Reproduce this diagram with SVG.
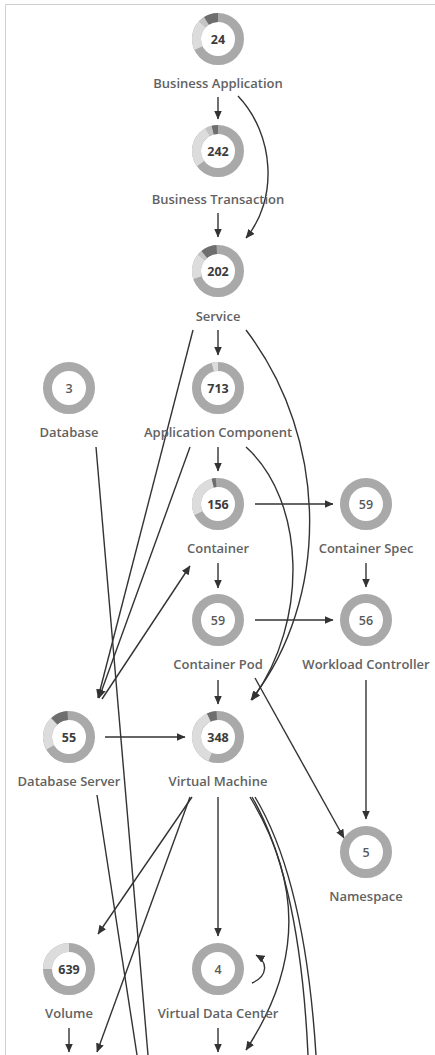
<svg xmlns="http://www.w3.org/2000/svg" width="435" height="1055" viewBox="0 0 435 1055">
<defs>
<marker id="ah" markerWidth="9" markerHeight="8" refX="8.5" refY="4" orient="auto" markerUnits="userSpaceOnUse">
<path d="M0,0 L9,4 L0,8 z" fill="#333"/>
</marker>
</defs>
<style>
.bg{fill:#fff}
.frame{stroke:#cfcfcf;stroke-width:1;fill:none}
.ring{fill:none;stroke:#a9a9a9;stroke-width:9}
.seg{fill:none;stroke-width:9}
.l1{stroke:#dcdcdc}
.l2{stroke:#c4c4c4}
.dk{stroke:#6e6e6e}
.num{font-family:"Open Sans","Liberation Sans",sans-serif;font-size:12.5px;font-weight:700;fill:#3c3c3c;text-anchor:middle}
.num2{font-family:"Open Sans","Liberation Sans",sans-serif;font-size:12.5px;font-weight:600;fill:#5a5a5a;text-anchor:middle}
.lbl{font-family:"Open Sans","Liberation Sans",sans-serif;font-size:13px;font-weight:600;fill:#626262;text-anchor:middle}
.e{fill:none;stroke:#333;stroke-width:1.4}
.ea{fill:none;stroke:#333;stroke-width:1.4;marker-end:url(#ah)}
</style>
<rect class="bg" x="0" y="0" width="435" height="1055"/>
<path class="frame" d="M5.5,1055 V4.5 H435"/>

<g id="connectors">
<path class="ea" d="M218,97 L218,119"/>
<path class="ea" d="M238,96 C275,135 278,200 246,238"/>
<path class="ea" d="M218,213 L218,237"/>
<path class="ea" d="M218,330 L218,355"/>
<path class="ea" d="M193,330 L98,698"/>
<path class="ea" d="M246,330 C330,440 330,600 251,700"/>
<path class="ea" d="M218,447 L218,471"/>
<path class="ea" d="M246,447 C305,500 310,620 252,700"/>
<path class="ea" d="M190,447 L99,698"/>
<path class="ea" d="M102,699 L190,566"/>
<path class="ea" d="M255,504 L333,504"/>
<path class="ea" d="M218,563 L218,588"/>
<path class="ea" d="M366,563 L366,587"/>
<path class="ea" d="M255,620 L333,620"/>
<path class="ea" d="M218,680 L218,704"/>
<path class="ea" d="M255,678 L344,838"/>
<path class="ea" d="M366,680 L366,819"/>
<path class="ea" d="M105,737 L185,737"/>
<path class="e" d="M96,447 L148,1055"/>
<path class="e" d="M97,795 L137,1055"/>
<path class="ea" d="M192,797 L98,934"/>
<path class="ea" d="M190,797 L97,1052"/>
<path class="ea" d="M218,797 L218,936"/>
<path class="e" d="M252,797 Q300,880 308,1055"/>
<path class="e" d="M255,797 Q305,880 316,1055"/>
<path class="ea" d="M250,797 C300,880 305,960 246,1050"/>
<path class="ea" d="M69,1028 L69,1052"/>
<path class="ea" d="M218,1028 L218,1052"/>
<path class="ea" d="M252,983 C268,976 268,962 256,955"/>
</g>

<g id="business-application" transform="translate(218,39)">
<circle class="ring" r="21.5"/>
<g transform="rotate(-90)">
<circle class="seg l1" r="21.5" pathLength="100" stroke-dasharray="19 100" stroke-dashoffset="-68"/>
<circle class="seg l2" r="21.5" pathLength="100" stroke-dasharray="4 100" stroke-dashoffset="-87"/>
<circle class="seg dk" r="21.5" pathLength="100" stroke-dasharray="9 100" stroke-dashoffset="-91"/>
</g>
<text class="num" y="4.5">24</text>
<text class="lbl" y="49">Business Application</text>
</g>

<g id="business-transaction" transform="translate(218,151)">
<circle class="ring" r="21.5"/>
<g transform="rotate(-90)">
<circle class="seg l1" r="21.5" pathLength="100" stroke-dasharray="27 100" stroke-dashoffset="-65"/>
<circle class="seg l2" r="21.5" pathLength="100" stroke-dasharray="4 100" stroke-dashoffset="-92"/>
<circle class="seg dk" r="21.5" pathLength="100" stroke-dasharray="4 100" stroke-dashoffset="-96"/>
</g>
<text class="num" y="4.5">242</text>
<text class="lbl" y="53">Business Transaction</text>
</g>

<g id="service" transform="translate(218,271)">
<circle class="ring" r="21.5"/>
<g transform="rotate(-90)">
<circle class="seg l1" r="21.5" pathLength="100" stroke-dasharray="16 100" stroke-dashoffset="-70"/>
<circle class="seg l2" r="21.5" pathLength="100" stroke-dasharray="3 100" stroke-dashoffset="-86"/>
<circle class="seg dk" r="21.5" pathLength="100" stroke-dasharray="10 100" stroke-dashoffset="-89"/>
</g>
<text class="num" y="4.5">202</text>
<text class="lbl" y="50">Service</text>
</g>

<g id="database" transform="translate(69,388)">
<circle class="ring" r="21.5"/>
<text class="num2" y="4.5">3</text>
<text class="lbl" y="49">Database</text>
</g>

<g id="application-component" transform="translate(218,388)">
<circle class="ring" r="21.5"/>
<g transform="rotate(-90)">
<circle class="seg l1" r="21.5" pathLength="100" stroke-dasharray="4 100" stroke-dashoffset="-96"/>
</g>
<text class="num" y="4.5">713</text>
<text class="lbl" y="49">Application Component</text>
</g>

<g id="container" transform="translate(218,504)">
<circle class="ring" r="21.5"/>
<g transform="rotate(-90)">
<circle class="seg l1" r="21.5" pathLength="100" stroke-dasharray="28 100" stroke-dashoffset="-68"/>
<circle class="seg dk" r="21.5" pathLength="100" stroke-dasharray="2.5 100" stroke-dashoffset="-96"/>
</g>
<text class="num" y="4.5">156</text>
<text class="lbl" y="49">Container</text>
</g>

<g id="container-spec" transform="translate(366,504)">
<circle class="ring" r="21.5"/>
<text class="num2" y="4.5">59</text>
<text class="lbl" y="49">Container Spec</text>
</g>

<g id="container-pod" transform="translate(218,620)">
<circle class="ring" r="21.5"/>
<text class="num2" y="4.5">59</text>
<text class="lbl" y="49">Container Pod</text>
</g>

<g id="workload-controller" transform="translate(366,620)">
<circle class="ring" r="21.5"/>
<text class="num2" y="4.5">56</text>
<text class="lbl" y="49">Workload Controller</text>
</g>

<g id="database-server" transform="translate(69,737)">
<circle class="ring" r="21.5"/>
<g transform="rotate(-90)">
<circle class="seg l1" r="21.5" pathLength="100" stroke-dasharray="21 100" stroke-dashoffset="-67"/>
<circle class="seg dk" r="21.5" pathLength="100" stroke-dasharray="11 100" stroke-dashoffset="-88"/>
</g>
<text class="num" y="4.5">55</text>
<text class="lbl" y="49">Database Server</text>
</g>

<g id="virtual-machine" transform="translate(218,737)">
<circle class="ring" r="21.5"/>
<g transform="rotate(-90)">
<circle class="seg l1" r="21.5" pathLength="100" stroke-dasharray="37 100" stroke-dashoffset="-56"/>
<circle class="seg dk" r="21.5" pathLength="100" stroke-dasharray="6 100" stroke-dashoffset="-93"/>
</g>
<text class="num" y="4.5">348</text>
<text class="lbl" y="49">Virtual Machine</text>
</g>

<g id="namespace" transform="translate(366,852)">
<circle class="ring" r="21.5"/>
<text class="num2" y="4.5">5</text>
<text class="lbl" y="49">Namespace</text>
</g>

<g id="volume" transform="translate(69,969)">
<circle class="ring" r="21.5"/>
<g transform="rotate(-90)">
<circle class="seg l1" r="21.5" pathLength="100" stroke-dasharray="25 100" stroke-dashoffset="-75"/>
</g>
<text class="num" y="4.5">639</text>
<text class="lbl" y="49">Volume</text>
</g>

<g id="virtual-data-center" transform="translate(218,969)">
<circle class="ring" r="21.5"/>
<text class="num2" y="4.5">4</text>
<text class="lbl" y="49">Virtual Data Center</text>
</g>
</svg>
